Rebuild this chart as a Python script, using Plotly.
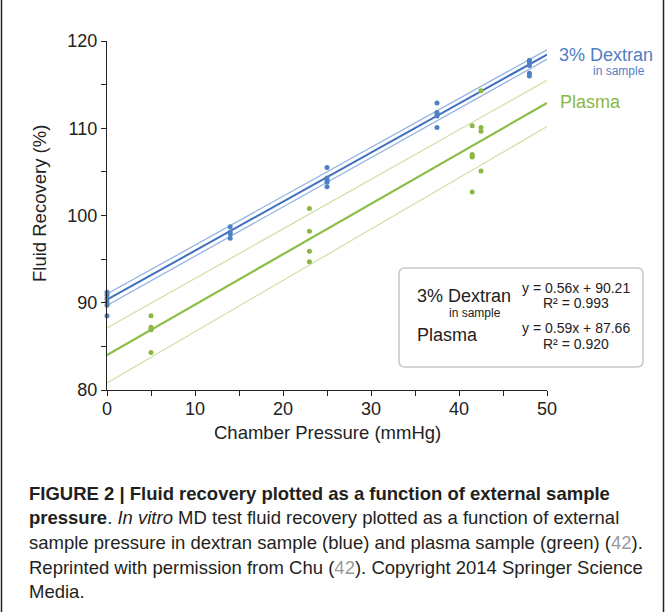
import plotly.graph_objects as go

# ---------------- data ----------------
dex_x = [0, 0, 0, 0, 0, 0, 14, 14, 14, 14, 25, 25, 25, 25, 25,
         37.5, 37.5, 37.5, 37.5, 37.5, 48, 48, 48, 48, 48]
dex_y = [91.2, 90.9, 90.5, 90.1, 89.7, 88.5, 98.7, 98.1, 97.9, 97.4,
         105.5, 104.3, 104.0, 103.8, 103.3, 112.9, 111.8, 111.6, 111.4, 110.1,
         117.8, 117.5, 117.2, 116.3, 116.0]

pla_x = [5, 5, 5, 5, 5, 23, 23, 23, 23, 41.5, 41.5, 41.5, 41.5, 41.5,
         42.5, 42.5, 42.5, 42.5]
pla_y = [88.5, 87.2, 87.0, 86.9, 84.3, 100.8, 98.2, 95.9, 94.7,
         110.3, 107.0, 106.8, 106.7, 102.7, 114.3, 110.1, 109.65, 105.1]

fit_x = [0, 50]
dex_fit = [90.35, 118.45]
dex_upper = [91.0, 119.0]
dex_lower = [89.7, 117.9]
pla_fit = [84.0, 112.9]
pla_upper = [87.1, 115.5]
pla_lower = [80.8, 110.2]

x_ticks = [0, 10, 20, 30, 40, 50]
y_ticks = [80, 90, 100, 110, 120]

eq_dex = ["y = 0.56x + 90.21", "R² = 0.993"]
eq_pla = ["y = 0.59x + 87.66", "R² = 0.920"]

# ---------------- style ----------------
W, H = 671, 612
L, R, T, B = 107, 547, 41, 390  # plot area in pixels

BLUE_PT = "#4f80c6"
BLUE_LINE = "#3f6fbf"
BLUE_BAND = "#8fb0e0"
GREEN_PT = "#8bb843"
GREEN_LINE = "#8cbd45"
GREEN_BAND = "#cde0a6"
FONT = "Liberation Sans, Arial, sans-serif"
CAP_FONT = "Liberation Sans Narrow, Arial Narrow, Liberation Sans, sans-serif"


def px(xp):
    return (xp - L) / (R - L)


def py(yp):
    return (B - yp) / (B - T)


fig = go.Figure()

# bands + fits
for ys, col, w in [(dex_upper, BLUE_BAND, 1.2), (dex_lower, BLUE_BAND, 1.2),
                   (pla_upper, GREEN_BAND, 1.2), (pla_lower, GREEN_BAND, 1.2),
                   (dex_fit, BLUE_LINE, 2), (pla_fit, GREEN_LINE, 2.2)]:
    fig.add_trace(go.Scatter(x=fit_x, y=ys, mode="lines",
                             line=dict(color=col, width=w),
                             showlegend=False, hoverinfo="skip", cliponaxis=False))

fig.add_trace(go.Scatter(x=dex_x, y=dex_y, mode="markers",
                         marker=dict(color=BLUE_PT, size=5),
                         showlegend=False, cliponaxis=False))
fig.add_trace(go.Scatter(x=pla_x, y=pla_y, mode="markers",
                         marker=dict(color=GREEN_PT, size=5),
                         showlegend=False, cliponaxis=False))

axis_common = dict(showline=True, linecolor="#222", linewidth=1.2, ticks="outside",
                   ticklen=5, tickcolor="#222", showgrid=False, zeroline=False,
                   tickfont=dict(family=FONT, size=18, color="#222"),
                   minor=dict(ticks="outside", ticklen=5, tickcolor="#222"))

fig.update_xaxes(range=[0, 50], tickvals=x_ticks, minor_dtick=5,
                 ticklabelstandoff=-3, **axis_common)
fig.update_yaxes(range=[80, 120], tickvals=y_ticks, minor_dtick=5, **axis_common)

ann = []


def text(x, y, s, size, color="#222", xanchor="left", font=FONT):
    ann.append(dict(x=px(x), y=py(y), xref="paper", yref="paper", text=s,
                    showarrow=False, xanchor=xanchor, yanchor="middle",
                    font=dict(family=font, size=size, color=color)))


# axis titles
text(327, 432, "Chamber Pressure (mmHg)", 18.5, xanchor="center")
ann.append(dict(x=px(40), y=py(204), xref="paper", yref="paper",
                text="Fluid Recovery (%)", showarrow=False, textangle=-90,
                xanchor="center", yanchor="middle",
                font=dict(family=FONT, size=18.5, color="#222")))

# series labels at right
text(557, 55, "3% Dextran", 18, BLUE_PT)
text(591, 71, "in sample", 12, BLUE_PT)
text(558, 102, "Plasma", 18, GREEN_PT)

# box contents
text(415, 296, "3% Dextran", 18)
text(447, 313, "in sample", 12)
text(415, 335, "Plasma", 18)
text(576, 288, eq_dex[0], 14, xanchor="center")
text(576, 303, eq_dex[1], 14, xanchor="center")
text(576, 328, eq_pla[0], 14, xanchor="center")
text(576, 344, eq_pla[1], 14, xanchor="center")

# caption
grey = "<span style='color:#9a9a9a'>42</span>"
cap = [
    "<b>FIGURE 2 | Fluid recovery plotted as a function of external sample</b>",
    "<b>pressure</b>. <i>In vitro</i> MD test fluid recovery plotted as a function of external",
    "sample pressure in dextran sample (blue) and plasma sample (green) (" + grey + ").",
    "Reprinted with permission from Chu (" + grey + "). Copyright 2014 Springer Science",
    "Media.",
]
for i, line in enumerate(cap):
    text(27, 493 + i * 24.7, line, 18.5, "#231f20", font=CAP_FONT)

fig.update_layout(annotations=ann)

# rounded box
x0, x1, y0, y1 = px(399), px(643), py(367), py(268)
rx, ry = 6 / (R - L), 6 / (B - T)
path = (f"M {x0+rx},{y0} L {x1-rx},{y0} Q {x1},{y0} {x1},{y0+ry} "
        f"L {x1},{y1-ry} Q {x1},{y1} {x1-rx},{y1} L {x0+rx},{y1} "
        f"Q {x0},{y1} {x0},{y1-ry} L {x0},{y0+ry} Q {x0},{y0} {x0+rx},{y0} Z")
shapes = [dict(type="path", path=path, xref="paper", yref="paper",
               line=dict(color="#c8c8c8", width=1.5), fillcolor="rgba(0,0,0,0)")]
# outer frame lines
for xf in (1.5, 663.5):
    shapes.append(dict(type="line", xref="paper", yref="paper",
                       x0=px(xf), x1=px(xf), y0=py(0), y1=py(H),
                       line=dict(color="#222", width=1.5)))
fig.update_layout(shapes=shapes)

fig.update_layout(width=W, height=H, margin=dict(l=L, r=W - R, t=T, b=H - B),
                  plot_bgcolor="white", paper_bgcolor="white", showlegend=False)

fig.write_html("out.html")
